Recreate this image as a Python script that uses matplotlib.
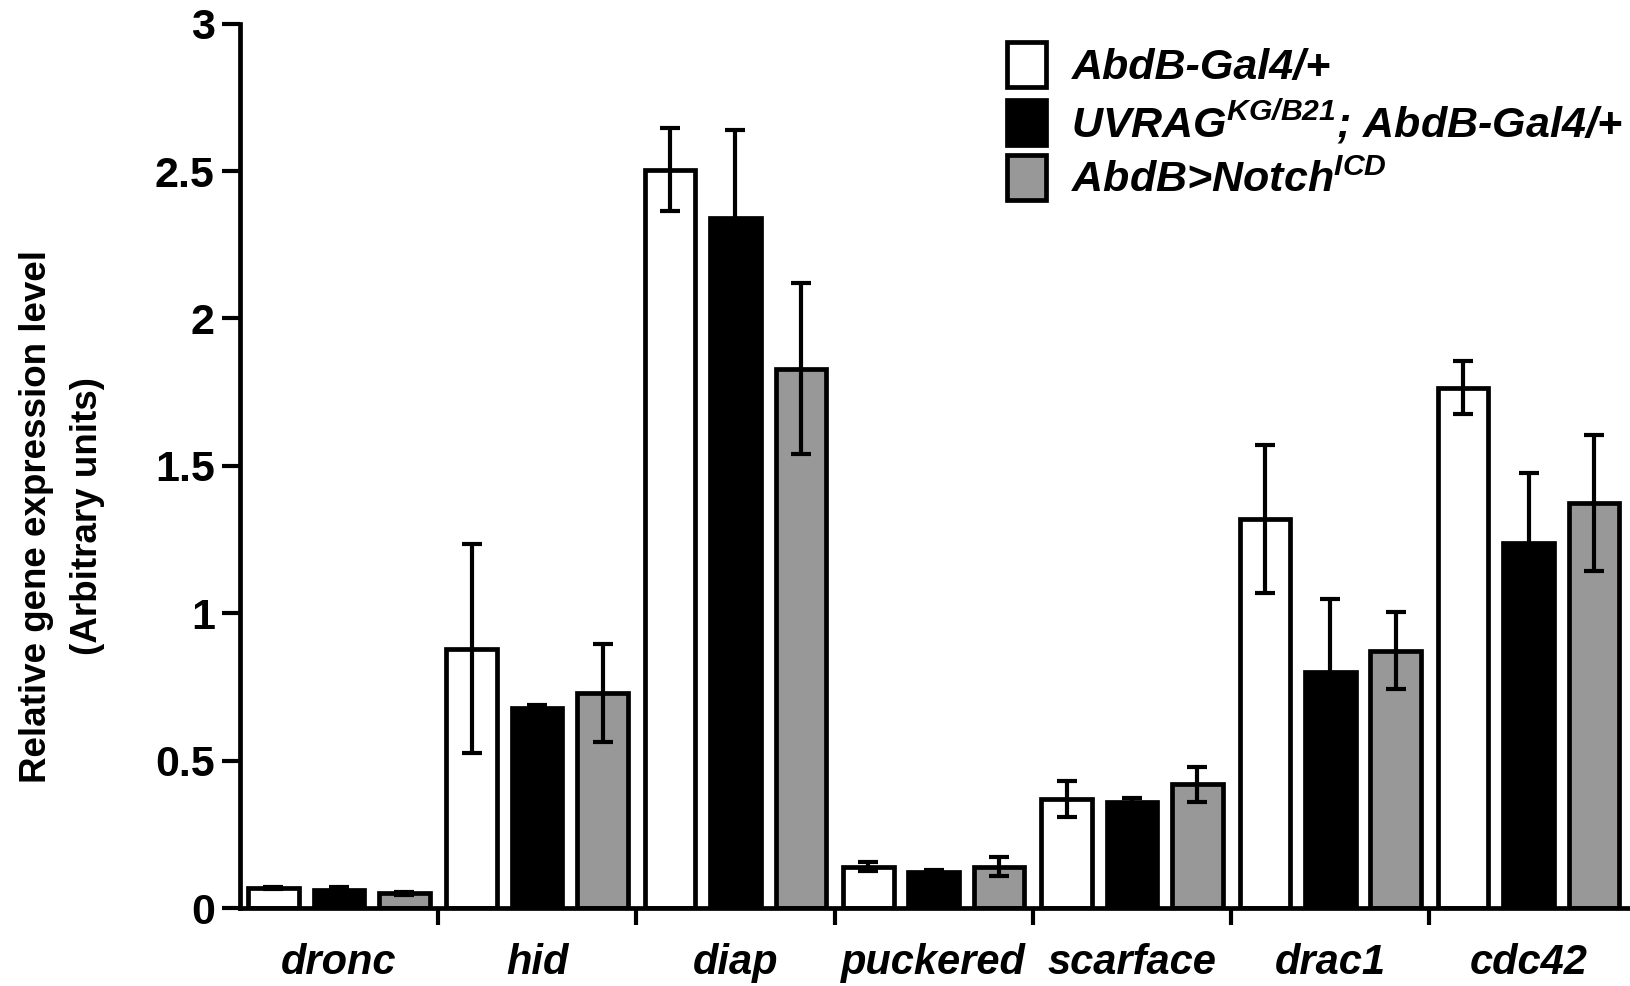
import matplotlib
matplotlib.use('Agg')
import matplotlib.pyplot as plt
from matplotlib.patches import Patch
import numpy as np

genes = ['dronc', 'hid', 'diap', 'puckered', 'scarface', 'drac1', 'cdc42']
series = ['AbdB-Gal4/+',
          'UVRAG$^{KG/B21}$; AbdB-Gal4/+',
          'AbdB>Notch$^{ICD}$']

control = [0.068, 0.88, 2.505, 0.14, 0.37, 1.32, 1.765]
control_err = [0.004, 0.355, 0.14, 0.015, 0.06, 0.25, 0.09]
uvrag = [0.062, 0.68, 2.34, 0.123, 0.36, 0.80, 1.237]
uvrag_err = [0.008, 0.01, 0.30, 0.006, 0.012, 0.25, 0.24]
notch = [0.05, 0.73, 1.83, 0.14, 0.42, 0.873, 1.375]
notch_err = [0.006, 0.165, 0.29, 0.032, 0.06, 0.13, 0.23]

colors = ['white', 'black', '#989898']

plt.rcParams['font.family'] = 'Liberation Sans'
plt.rcParams['font.weight'] = 'bold'
plt.rcParams['mathtext.fontset'] = 'custom'
plt.rcParams['mathtext.it'] = 'Liberation Sans:italic:bold'
plt.rcParams['mathtext.rm'] = 'Liberation Sans:italic:bold'

fig = plt.figure(figsize=(16.31, 9.86), dpi=100)
ax = fig.add_axes([0.147, 0.079, 0.851, 0.897])

x = np.arange(len(genes))
offsets = [0.17, 0.5, 0.83]
width = 0.255
lw = 3.4

for vals, errs, col, off, lab in zip([control, uvrag, notch],
                                     [control_err, uvrag_err, notch_err],
                                     colors, offsets, series):
    ax.bar(x + off, vals, width=width, color=col, edgecolor='black',
           linewidth=lw, label=lab, zorder=2)
    ax.errorbar(x + off, vals, yerr=errs, fmt='none', ecolor='black',
                elinewidth=3, capsize=7, capthick=3, zorder=3)

ax.set_xlim(0, 7)
ax.set_ylim(0, 3)
ax.set_yticks([0, 0.5, 1, 1.5, 2, 2.5, 3])
ax.set_yticklabels(['0', '0.5', '1', '1.5', '2', '2.5', '3'])
ax.set_xticks(np.arange(1, 7))
ax.set_xticklabels([])
ax.set_xticks(x + 0.5, minor=True)
ax.set_xticklabels(genes, minor=True, fontstyle='italic', fontsize=30,
                   fontweight='bold')

ax.tick_params(axis='y', labelsize=31, width=3, length=13, pad=5)
ax.tick_params(axis='x', which='major', width=3, length=12)
ax.tick_params(axis='x', which='minor', length=0, pad=25)

for s in ['top', 'right']:
    ax.spines[s].set_visible(False)
for s in ['left', 'bottom']:
    ax.spines[s].set_linewidth(3.4)

ax.set_ylabel('Relative gene expression level\n(Arbitrary units)',
              fontsize=26.5, fontweight='bold', labelpad=36, linespacing=1.6)
ax.yaxis.label.set_y(0.443)

handles = [Patch(facecolor=c, edgecolor='black', linewidth=lw) for c in colors]
leg = ax.legend(handles, series, loc='upper left',
                bbox_to_anchor=(0.5527, 0.979), frameon=False,
                prop={'size': 31, 'style': 'italic', 'weight': 'bold'},
                handlelength=0.9, handleheight=1.22, labelspacing=0.22,
                handletextpad=0.6, borderaxespad=0.0, borderpad=0.0)

fig.savefig('out.png', dpi=100)
